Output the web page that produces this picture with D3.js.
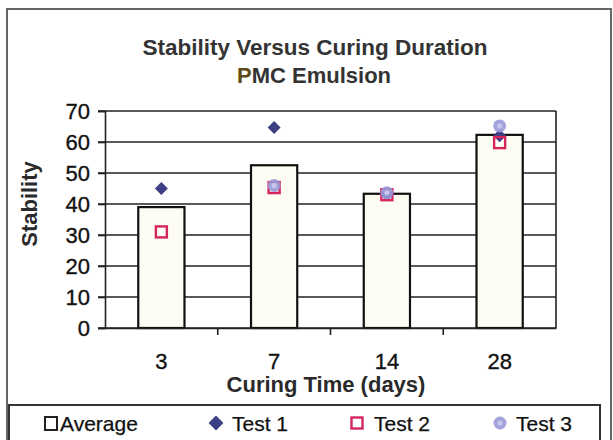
<!DOCTYPE html>
<html>
<head>
<meta charset="utf-8">
<script src="https://cdn.jsdelivr.net/npm/d3@7"></script>
<style>
  body { margin: 0; background: #fff; }
  svg { display: block; font-family: "Liberation Sans", Arial, sans-serif; }
  .tick-label { font-size: 22px; fill: #111; stroke: #111; stroke-width: 0.35px; }
  .axis-title { font-size: 22px; font-weight: bold; fill: #2a2a2a; }
  .legend-label { font-size: 21px; fill: #111; stroke: #111; stroke-width: 0.25px; }
</style>
</head>
<body>
<div id="chart"></div>
<script>
var categories = ["3", "7", "14", "28"];
var average = [39, 52.5, 43.3, 62.3];
var test1 = [45, 64.7, 43, 62];
var test2 = [31, 45.3, 43, 59.8];
var test3 = [null, 46, 43.6, 65.2];
var y_ticks = [0, 10, 20, 30, 40, 50, 60, 70];

var width = 613;
var height = 440;
var plot_left = 105;
var plot_right = 556;
var plot_top = 111;
var plot_bottom = 328;

var svg = d3.select("#chart").append("svg")
    .attr("width", width)
    .attr("height", height);

// Outer chart frame.
svg.append("rect")
    .attr("x", 7)
    .attr("y", 9)
    .attr("width", 604)
    .attr("height", 440)
    .attr("fill", "#fff")
    .attr("stroke", "#666")
    .attr("stroke-width", 2);

var x = d3.scaleBand()
    .domain(categories)
    .range([plot_left, plot_right])
    .paddingInner(0.59)
    .paddingOuter(0.295);

var y = d3.scaleLinear()
    .domain([0, 70])
    .range([plot_bottom, plot_top]);

// Titles.
svg.append("text")
    .attr("x", 315)
    .attr("y", 55)
    .attr("text-anchor", "middle")
    .attr("font-size", "22.5px")
    .attr("font-weight", "bold")
    .attr("fill", "#333")
    .text("Stability Versus Curing Duration");

var sub = svg.append("text")
    .attr("x", 314)
    .attr("y", 83)
    .attr("text-anchor", "middle")
    .attr("font-size", "22px")
    .attr("font-weight", "bold")
    .attr("fill", "#333");
sub.append("tspan").attr("fill", "#5e4d12").text("P");
sub.append("tspan").text("MC Emulsion");

// Gridlines.
svg.append("g").selectAll("line").data(y_ticks).enter().append("line")
    .attr("x1", plot_left - 7)
    .attr("x2", plot_right)
    .attr("y1", function(d) { return y(d); })
    .attr("y2", function(d) { return y(d); })
    .attr("stroke", "#222")
    .attr("stroke-width", 1.6);

// Right edge of the plot area.
svg.append("line")
    .attr("x1", plot_right).attr("x2", plot_right)
    .attr("y1", plot_top).attr("y2", plot_bottom)
    .attr("stroke", "#222")
    .attr("stroke-width", 1.6);

// Bars.
svg.append("g").selectAll("rect").data(average).enter().append("rect")
    .attr("x", function(d, i) { return x(categories[i]); })
    .attr("y", function(d) { return y(d); })
    .attr("width", x.bandwidth())
    .attr("height", function(d) { return y(0) - y(d); })
    .attr("fill", "#fcfcf2")
    .attr("stroke", "#111")
    .attr("stroke-width", 2.2);

// Axes.
var y_axis = svg.append("g")
    .attr("transform", "translate(" + plot_left + ",0)")
    .call(d3.axisLeft(y).tickValues(y_ticks).tickSize(7).tickPadding(8));
y_axis.select(".domain").attr("stroke", "#222").attr("stroke-width", 1.6);
y_axis.selectAll(".tick line").attr("stroke", "#222").attr("stroke-width", 1.6);
y_axis.selectAll(".tick text")
    .attr("class", "tick-label")
    .attr("font-family", null)
    .attr("font-size", null)
    .attr("fill", null);

var x_axis = svg.append("g")
    .attr("transform", "translate(0," + plot_bottom + ")")
    .call(d3.axisBottom(x).tickSize(0).tickPadding(25));
x_axis.select(".domain").attr("stroke", "#222").attr("stroke-width", 1.6);
x_axis.selectAll(".tick text")
    .attr("class", "tick-label")
    .attr("font-family", null)
    .attr("font-size", null)
    .attr("fill", null);

// Category separators on the x axis.
var step = x.step();
svg.append("g").selectAll("line").data(categories.slice(1)).enter().append("line")
    .attr("x1", function(d) { return x(d) - step * x.paddingInner() / 2; })
    .attr("x2", function(d) { return x(d) - step * x.paddingInner() / 2; })
    .attr("y1", plot_bottom)
    .attr("y2", plot_bottom + 7)
    .attr("stroke", "#222")
    .attr("stroke-width", 1.6);

// Axis titles.
svg.append("text")
    .attr("class", "axis-title")
    .attr("x", 326)
    .attr("y", 392)
    .attr("text-anchor", "middle")
    .text("Curing Time (days)");

svg.append("text")
    .attr("class", "axis-title")
    .attr("transform", "translate(37,204) rotate(-90)")
    .attr("text-anchor", "middle")
    .text("Stability");

// Markers.
function cx(i) { return x(categories[i]) + x.bandwidth() / 2; }

function drawTest1(g, px, py, s) {
    g.append("path")
        .attr("d", d3.symbol().type(d3.symbolSquare).size(s || 85))
        .attr("transform", "translate(" + px + "," + py + ") rotate(45)")
        .attr("fill", "#3d3f82");
}
function drawTest2(g, px, py) {
    g.append("rect")
        .attr("x", px - 5.5)
        .attr("y", py - 5.5)
        .attr("width", 11)
        .attr("height", 11)
        .attr("fill", "none")
        .attr("stroke", "#d6245f")
        .attr("stroke-width", 2.4);
}
function drawTest3(g, px, py) {
    g.append("circle")
        .attr("cx", px)
        .attr("cy", py)
        .attr("r", 6.5)
        .attr("fill", "#9a9ad8")
        .attr("opacity", 0.9);
    g.append("circle")
        .attr("cx", px)
        .attr("cy", py)
        .attr("r", 2.5)
        .attr("fill", "#c8c8ee");
}

var marks = svg.append("g");
test1.forEach(function(d, i) { if (d != null) drawTest1(marks, cx(i), y(d)); });
test2.forEach(function(d, i) { if (d != null) drawTest2(marks, cx(i), y(d)); });
test3.forEach(function(d, i) { if (d != null) drawTest3(marks, cx(i), y(d)); });

// Legend.
svg.append("rect")
    .attr("x", 9)
    .attr("y", 405)
    .attr("width", 591)
    .attr("height", 45)
    .attr("fill", "#fff")
    .attr("stroke", "#333")
    .attr("stroke-width", 2);

var legend_y = 423;
var leg = svg.append("g");
leg.append("rect")
    .attr("x", 45).attr("y", legend_y - 6)
    .attr("width", 12).attr("height", 13)
    .attr("fill", "#fff")
    .attr("stroke", "#222")
    .attr("stroke-width", 2);
drawTest1(leg, 216, legend_y, 110);
drawTest2(leg, 357, legend_y);
drawTest3(leg, 500, legend_y);

var legend_names = ["Average", "Test 1", "Test 2", "Test 3"];
var legend_x = [60, 232, 374, 516];
leg.selectAll("text.legend-label").data(legend_names).enter().append("text")
    .attr("class", "legend-label")
    .attr("x", function(d, i) { return legend_x[i]; })
    .attr("y", legend_y + 8)
    .text(function(d) { return d; });
</script>
</body>
</html>
